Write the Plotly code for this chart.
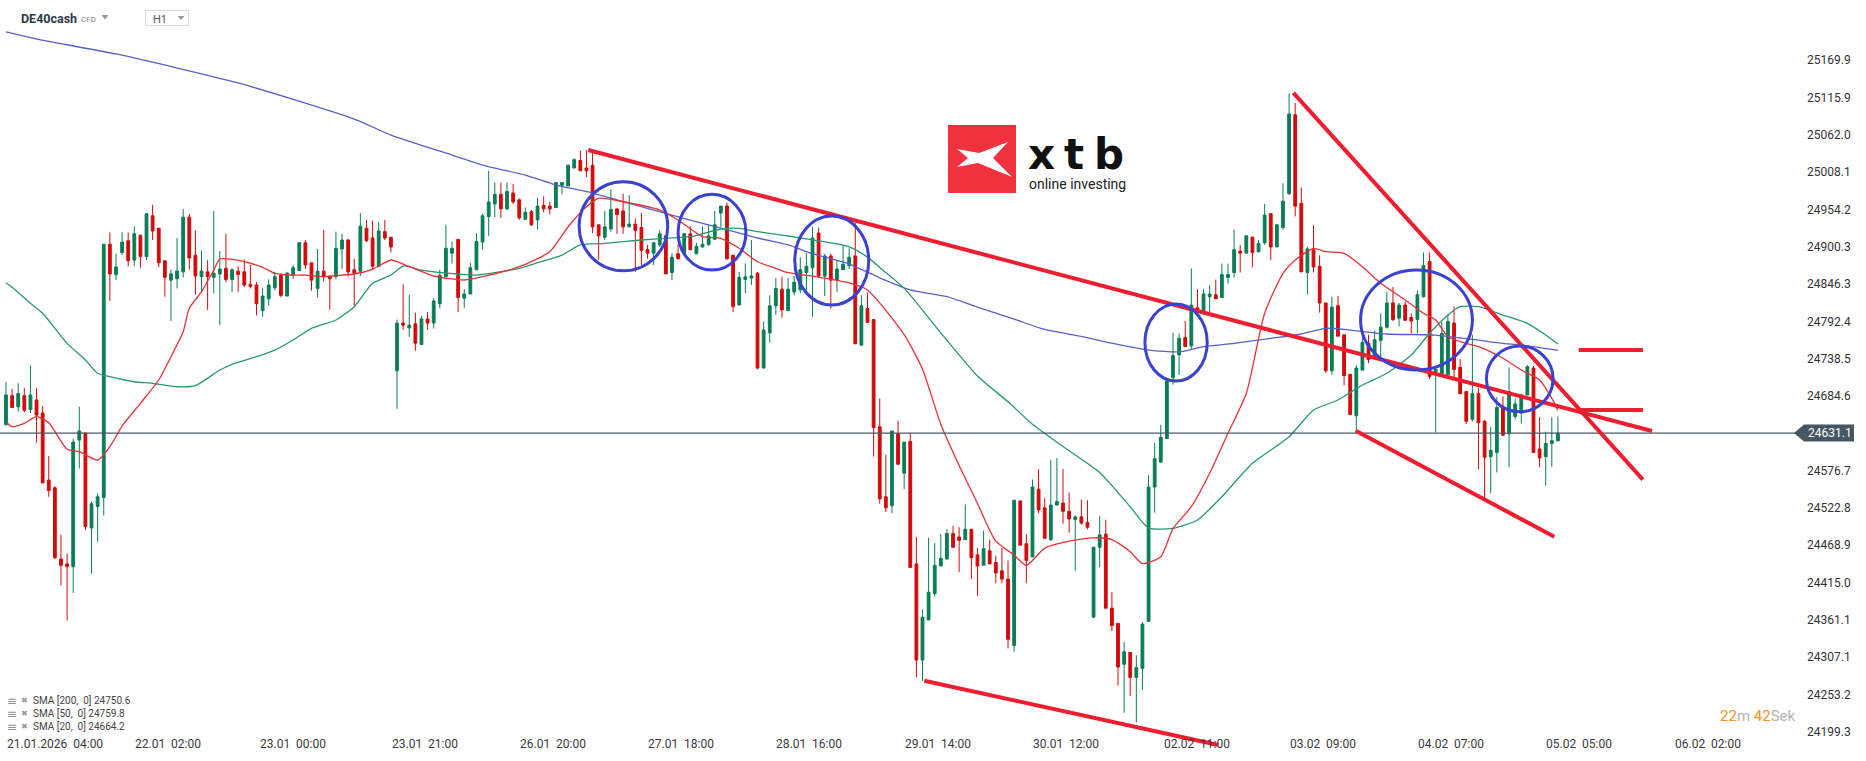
import plotly.graph_objects as go

# ---------------- data ----------------
opens = [24643,24685,24669,24685,24665,24679,24660,24563,24552,24449,
         24442,24438,24621,24631,24494,24525,24538,24904,24860,24892,
         24909,24881,24917,24886,24945,24927,24880,24852,24854,24864,
         24943,24888,24857,24864,24856,24861,24869,24853,24865,24864,
         24846,24845,24808,24825,24841,24859,24829,24859,24866,24906,
         24877,24840,24865,24858,24857,24897,24910,24867,24865,24927,
         24913,24872,24922,24914,24721,24790,24783,24789,24759,24796,
         24790,24818,24857,24891,24911,24826,24832,24867,24907,24944,
         24962,24976,24955,24978,24968,24940,24951,24939,24960,24959,
         24957,24989,24988,25014,25025,25014,25018,24932,24914,24926,
         24955,24952,24929,24933,24928,24896,24891,24903,24916,24863,
         24890,24890,24919,24890,24900,24903,24911,24949,24959,24888,
         24816,24853,24855,24862,24725,24776,24815,24839,24808,24835,
         24838,24863,24870,24920,24858,24887,24852,24867,24873,24887,
         24758,24811,24795,24640,24539,24526,24630,24573,24619,24442,
         24303,24361,24399,24439,24449,24486,24481,24477,24492,24455,
         24440,24461,24444,24432,24420,24324,24533,24471,24452,24550,
         24523,24477,24527,24530,24518,24506,24510,24502,24365,24466,
         24485,24378,24356,24297,24314,24278,24291,24359,24553,24589,
         24623,24711,24744,24769,24757,24812,24805,24828,24831,24827,
         24856,24863,24894,24891,24914,24893,24906,24948,24900,24928,
         24977,25091,24963,24863,24896,24872,24819,24721,24815,24773,
         24716,24656,24722,24761,24741,24765,24784,24819,24797,24816,
         24798,24795,24828,24879,24720,24714,24715,24790,24726,24691,
         24651,24688,24648,24597,24603,24668,24630,24655,24660,24686,
         24725,24608,24597,24616,24620]
highs = [24705,24695,24703,24696,24729,24696,24670,24598,24554,24484,
         24457,24623,24669,24632,24532,24544,24904,24921,24890,24921,
         24921,24930,24917,24948,24961,24927,24880,24867,24913,24955,
         24948,24924,24894,24881,24952,24894,24919,24869,24872,24882,
         24874,24849,24841,24853,24864,24862,24864,24874,24907,24910,
         24877,24897,24925,24858,24922,24919,24912,24883,24949,24939,
         24938,24936,24939,24914,24795,24846,24831,24805,24800,24806,
         24826,24867,24932,24908,24911,24839,24877,24920,24948,25010,
         24993,24993,24993,24991,24970,24957,24953,24971,24973,24965,
         24993,24993,25019,25028,25039,25040,25040,24932,24952,24983,
         24955,24977,24975,24941,24949,24903,24906,24924,24916,24891,
         24904,24920,24930,24906,24930,24932,24952,24959,24964,24888,
         24864,24876,24910,24864,24792,24830,24855,24857,24855,24858,
         24885,24891,24929,24928,24890,24890,24880,24902,24898,24935,
         24830,24834,24796,24681,24600,24634,24649,24618,24631,24481,
         24376,24480,24472,24485,24492,24497,24495,24528,24492,24465,
         24490,24477,24454,24465,24447,24534,24533,24485,24564,24579,
         24537,24592,24595,24579,24545,24512,24535,24534,24467,24511,
         24506,24401,24356,24329,24314,24310,24358,24570,24617,24643,
         24711,24776,24775,24793,24869,24839,24839,24845,24853,24876,
         24876,24925,24903,24916,24915,24910,24962,24948,24932,24992,
         25122,25108,24986,24900,24931,24888,24819,24828,24829,24773,
         24716,24729,24770,24773,24779,24804,24835,24842,24819,24821,
         24804,24837,24892,24892,24727,24792,24802,24814,24738,24691,
         24773,24696,24650,24640,24683,24684,24726,24681,24688,24729,
         24728,24654,24633,24654,24655]
lows = [24643,24668,24662,24661,24660,24617,24559,24539,24449,24411,
        24360,24400,24580,24491,24428,24474,24512,24822,24852,24888,
        24872,24872,24870,24881,24910,24871,24828,24793,24840,24856,
        24867,24831,24834,24809,24833,24787,24849,24835,24835,24842,
        24840,24801,24799,24815,24837,24827,24829,24854,24866,24868,
        24837,24827,24850,24809,24853,24868,24857,24815,24858,24907,
        24868,24871,24910,24892,24666,24780,24770,24750,24759,24780,
        24782,24811,24857,24876,24806,24812,24832,24867,24896,24916,
        24943,24942,24953,24962,24939,24940,24930,24925,24950,24947,
        24956,24976,24988,25014,25010,25001,24920,24881,24910,24922,
        24919,24919,24929,24864,24874,24883,24874,24900,24861,24852,
        24882,24890,24895,24890,24899,24903,24911,24929,24881,24806,
        24816,24833,24845,24723,24725,24762,24802,24798,24808,24830,
        24833,24833,24799,24855,24829,24811,24835,24867,24868,24760,
        24758,24791,24597,24529,24517,24515,24586,24550,24437,24278,
        24273,24361,24395,24439,24449,24466,24430,24477,24420,24396,
        24440,24442,24414,24414,24320,24315,24469,24414,24452,24515,
        24479,24475,24527,24500,24487,24432,24499,24492,24364,24437,
        24378,24345,24266,24227,24251,24213,24260,24359,24516,24589,
        24623,24701,24715,24756,24751,24799,24805,24806,24825,24826,
        24847,24856,24863,24891,24871,24892,24903,24881,24900,24925,
        24975,24944,24864,24831,24863,24805,24718,24715,24771,24700,
        24658,24633,24722,24732,24738,24741,24782,24793,24785,24793,
        24775,24775,24827,24709,24632,24714,24715,24709,24687,24644,
        24648,24579,24533,24544,24574,24627,24582,24651,24645,24686,
        24603,24582,24555,24582,24619]
closes = [24686,24668,24688,24664,24686,24657,24559,24548,24451,24440,
          24438,24618,24634,24496,24529,24539,24904,24861,24871,24907,
          24880,24919,24886,24948,24923,24877,24856,24861,24865,24943,
          24884,24858,24865,24857,24862,24868,24853,24867,24860,24845,
          24843,24818,24829,24845,24857,24830,24862,24870,24906,24874,
          24852,24865,24857,24854,24898,24910,24864,24862,24930,24909,
          24872,24923,24913,24900,24790,24787,24787,24761,24796,24790,
          24822,24859,24898,24898,24827,24832,24870,24908,24945,24965,
          24976,24955,24980,24965,24942,24950,24932,24959,24955,24955,
          24993,24993,25018,25026,25010,25010,24929,24916,24929,24954,
          24947,24929,24933,24924,24895,24891,24906,24919,24861,24885,
          24883,24919,24896,24901,24904,24916,24932,24959,24883,24814,
          24856,24857,24858,24725,24780,24815,24840,24809,24839,24849,
          24867,24872,24913,24858,24887,24852,24868,24875,24885,24760,
          24815,24791,24639,24536,24523,24634,24586,24618,24437,24303,
          24365,24401,24440,24450,24486,24466,24476,24492,24451,24439,
          24464,24442,24429,24420,24333,24534,24469,24447,24553,24520,
          24479,24527,24532,24518,24507,24510,24501,24495,24466,24484,
          24378,24353,24293,24315,24278,24292,24355,24553,24594,24625,
          24706,24743,24768,24756,24816,24806,24832,24832,24825,24860,
          24860,24896,24891,24916,24892,24905,24946,24900,24932,24966,
          25092,24959,24864,24897,24871,24819,24721,24813,24771,24714,
          24658,24725,24762,24737,24766,24784,24819,24795,24816,24794,
          24793,24831,24873,24713,24723,24775,24792,24723,24688,24648,
          24688,24646,24596,24606,24668,24628,24691,24673,24686,24727,
          24603,24595,24616,24620,24631.1]
bars = list(range(len(opens)))

sma200_bar = [0, 5, 18, 38, 57, 63, 73, 79, 85, 90, 96, 101, 106, 112, 117, 123, 128, 132, 138, 143,
              148, 154, 159, 165, 170, 176, 181, 187, 192, 196, 201, 207, 212, 216, 220, 226, 234, 240,
              245, 248, 254]
sma200_val = [25210.6, 25200.4, 25178.8, 25136.9, 25084.8, 25061.7, 25032.8, 25015.9, 25003.9, 24989.5,
              24977.9, 24965.3, 24953.3, 24938.9, 24927.3, 24912.9, 24902.8, 24890.2, 24875.3, 24855.4,
              24837.9, 24828.1, 24813.0, 24795.7, 24780.7, 24770.8, 24760.9, 24750.9, 24748.4, 24755.8,
              24760.7, 24768.0, 24774.2, 24782.4, 24779.9, 24774.2, 24772.7, 24766.5, 24760.7, 24758.3,
              24750.6]
sma50_bar = [0, 1, 4, 6, 10, 13, 15, 17, 21, 24, 28, 31, 35, 37, 41, 44, 47, 50, 54, 57,
             60, 63, 65, 68, 74, 77, 84, 87, 91, 94, 98, 104, 108, 112, 117, 120, 123, 128, 132, 138,
             141, 144, 147, 153, 159, 164, 168, 173, 179, 184, 187, 191, 195, 199, 204, 210, 214, 218,
             222, 226, 230, 233, 236, 238, 241, 245, 249, 252, 254]
sma50_val = [24848.3, 24841.7, 24818.5, 24804.1, 24760.7, 24736.6, 24717.4, 24712.5, 24705.2, 24702.9,
             24698.0, 24699.5, 24722.1, 24730.4, 24741.4, 24751.0, 24765.5, 24782.4, 24794.4, 24813.6,
             24847.4, 24859.4, 24872.4, 24866.6, 24860.9, 24859.4, 24869.1, 24877.2, 24888.3, 24902.8,
             24905.2, 24910.0, 24912.5, 24914.8, 24925.9, 24926.9, 24922.0, 24915.8, 24910.1, 24900.2,
             24885.3, 24862.9, 24840.5, 24775.8, 24713.5, 24676.2, 24643.8, 24611.6, 24574.2, 24524.5,
             24494.0, 24493.4, 24505.4, 24539.1, 24587.3, 24625.8, 24664.3, 24678.8, 24700.5, 24717.4,
             24743.8, 24775.2, 24801.6, 24813.6, 24813.6, 24801.6, 24789.6, 24772.7, 24759.8]
sma20_bar = [0, 1, 3, 5, 7, 10, 12, 15, 17, 19, 22, 25, 27, 29, 30, 32, 34, 35, 37, 39,
             42, 44, 47, 49, 52, 55, 57, 60, 63, 65, 70, 75, 78, 84, 89, 92, 95, 97, 101, 107,
             110, 114, 117, 120, 123, 126, 128, 132, 138, 141, 147, 150, 153, 156, 159, 162, 165, 167,
             170, 174, 178, 181, 184, 186, 189, 191, 194, 197, 200, 203, 206, 209, 211, 214, 216, 219,
             222, 225, 229, 232, 234, 236, 239, 241, 245, 248, 251, 253, 254]
sma20_val = [24647.4, 24640.2, 24645.1, 24654.7, 24646.0, 24607.6, 24604.1, 24592.1, 24611.3, 24641.2,
             24674.0, 24707.7, 24741.4, 24777.5, 24811.3, 24835.3, 24866.6, 24882.5, 24882.1, 24878.6,
             24870.6, 24861.9, 24859.4, 24859.4, 24857.0, 24859.4, 24860.9, 24867.7, 24881.1, 24875.3,
             24858.0, 24852.2, 24857.0, 24871.4, 24893.1, 24929.2, 24958.1, 24970.3, 24965.3, 24953.3,
             24938.9, 24914.8, 24912.5, 24898.0, 24878.6, 24869.1, 24862.7, 24857.8, 24847.9, 24837.9,
             24773.3, 24723.4, 24643.8, 24584.2, 24529.4, 24474.8, 24454.8, 24439.9, 24464.8, 24474.8,
             24479.7, 24477.2, 24459.7, 24442.4, 24452.4, 24493.0, 24524.6, 24572.9, 24630.7, 24688.5,
             24804.1, 24861.9, 24881.1, 24898.0, 24893.1, 24890.8, 24871.4, 24847.4, 24823.3, 24804.1,
             24794.4, 24770.3, 24760.7, 24755.8, 24739.1, 24722.1, 24707.7, 24681.2, 24664.2]

price_ticks = ["25169.9", "25115.9", "25062.0", "25008.1", "24954.2", "24900.3", "24846.3", "24792.4",
               "24738.5", "24684.6", "24576.7", "24522.8", "24468.9", "24415.0", "24361.1", "24307.1",
               "24253.2", "24199.3"]
time_labels = ["21.01.2026\u00a0\u00a004:00", "22.01\u00a0\u00a002:00", "23.01\u00a0\u00a000:00",
               "23.01\u00a0\u00a021:00", "26.01\u00a0\u00a020:00", "27.01\u00a0\u00a018:00",
               "28.01\u00a0\u00a016:00", "29.01\u00a0\u00a014:00", "30.01\u00a0\u00a012:00",
               "02.02\u00a0\u00a011:00", "03.02\u00a0\u00a009:00", "04.02\u00a0\u00a007:00",
               "05.02\u00a0\u00a005:00", "06.02\u00a0\u00a002:00"]
time_label_bar = [8, 26.5, 47, 68.5, 89.5, 110.5, 131.5, 152.5, 173.5, 195, 215.5, 236.5, 257.5, 278.5]

last_price = 24631.1
legend_rows = ["SMA [200,\u00a0\u00a00] 24750.6", "SMA [50,\u00a0\u00a00] 24759.8", "SMA [20,\u00a0\u00a00] 24664.2"]

# hand-drawn analysis objects (bar index, price)
trend_lines = [(95.3, 25040.0, 269.4, 24634.0),
               (210.7, 25122.7, 267.9, 24563.8),
               (220.9, 24634.3, 253.4, 24481.3),
               (150.3, 24273.2, 198.4, 24180.3),
               (257.4, 24751.0, 267.9, 24751.0),
               (257.4, 24664.5, 267.9, 24664.5)]
circles = [(93.8, 24865.6, 108.3, 24994.2),
           (110.0, 24866.6, 121.1, 24976.0),
           (129.1, 24816.1, 141.2, 24944.7),
           (186.4, 24706.3, 196.6, 24817.5),
           (221.7, 24722.1, 240.0, 24866.6),
           (242.3, 24661.9, 253.2, 24756.8)]

# ---------------- layout geometry ----------------
W, H = 1866, 761
PLOT_W = 1795
Y_TOP, Y_BOT = 25256.8, 24157.2
X_LEFT, X_RIGHT = -0.98, 292.8

GREEN = "#0a7d55"
RED = "#d20a0a"
TREND = "#ee1d2f"
CIRCLE = "#3b42d2"


def px(fx):
    return fx / PLOT_W


def py(fy):
    return 1 - fy / H


def pv(v):
    return (v - Y_BOT) / (Y_TOP - Y_BOT)


fig = go.Figure()
fig.add_trace(go.Candlestick(
    x=bars, open=opens, high=highs, low=lows, close=closes,
    increasing=dict(line=dict(color=GREEN, width=1), fillcolor=GREEN),
    decreasing=dict(line=dict(color=RED, width=1), fillcolor=RED),
    whiskerwidth=0, showlegend=False, hoverinfo="skip"))

for bx, vals, col in [(sma200_bar, sma200_val, "#5a60c6"),
                      (sma50_bar, sma50_val, "#27986f"),
                      (sma20_bar, sma20_val, "#e5323a")]:
    fig.add_trace(go.Scatter(x=bx, y=vals, mode="lines",
                             line=dict(color=col, width=1.3, shape="spline", smoothing=0.6),
                             showlegend=False, hoverinfo="skip"))

shapes = []
shapes.append(dict(type="line", xref="paper", yref="y", x0=0, x1=1, y0=last_price, y1=last_price,
                   line=dict(color="#4a5863", width=1.3), layer="above"))
for (x0, y0, x1, y1) in trend_lines:
    shapes.append(dict(type="line", xref="x", yref="y", x0=x0, y0=y0, x1=x1, y1=y1,
                       line=dict(color=TREND, width=4)))
for (x0, y0, x1, y1) in circles:
    shapes.append(dict(type="circle", xref="x", yref="y", x0=x0, y0=y0, x1=x1, y1=y1,
                       line=dict(color=CIRCLE, width=3)))

# price tag on the axis
ty = H * (1 - pv(last_price))
shapes.append(dict(type="path", xref="paper", yref="paper",
                   path=f"M {px(1794)} {py(ty)} L {px(1804)} {py(ty-8.5)} L {px(1854)} {py(ty-8.5)} "
                        f"L {px(1854)} {py(ty+8.5)} L {px(1804)} {py(ty+8.5)} Z",
                   fillcolor="#465663", line=dict(width=0)))

# xtb logo
shapes.append(dict(type="rect", xref="paper", yref="paper", x0=px(948), x1=px(1016), y0=py(193), y1=py(125),
                   fillcolor="#f0323f", line=dict(width=0)))
logo_pts = [(957, 149), (979, 153), (1008, 142), (993, 158), (1012, 177), (978, 163), (957, 167), (968, 158)]
path = "M " + " L ".join(f"{px(a)} {py(b)}" for a, b in logo_pts) + " Z"
shapes.append(dict(type="path", xref="paper", yref="paper", path=path, fillcolor="white", line=dict(width=0)))

# header widgets
shapes.append(dict(type="path", xref="paper", yref="paper",
                   path=f"M {px(101.5)} {py(15)} L {px(108.5)} {py(15)} L {px(105)} {py(19.5)} Z",
                   fillcolor="#9a9a9a", line=dict(width=0)))
shapes.append(dict(type="rect", xref="paper", yref="paper", x0=px(145.5), x1=px(188.5), y0=py(25.5), y1=py(10.5),
                   fillcolor="white", line=dict(color="#d9d9d9", width=1)))
shapes.append(dict(type="path", xref="paper", yref="paper",
                   path=f"M {px(177.5)} {py(16)} L {px(184.5)} {py(16)} L {px(181)} {py(20)} Z",
                   fillcolor="#9a9a9a", line=dict(width=0)))

ann = []
for lab, b in zip(time_labels, time_label_bar):
    ann.append(dict(x=b, y=py(744), xref="x", yref="paper", text=lab, showarrow=False,
                    xanchor="center", yanchor="middle", font=dict(family="Roboto", size=12, color="#3a3a3a")))
ann.append(dict(x=px(1829.5), y=last_price, xref="paper", yref="y", text=f"{last_price:.1f}", showarrow=False,
                xanchor="center", yanchor="middle", font=dict(family="Roboto", size=12, color="white")))
ann.append(dict(x=px(19), y=py(18.5), xref="paper", yref="paper", text="DE40cash", showarrow=False,
                xanchor="left", yanchor="middle",
                font=dict(family="Roboto", size=12.5, color="#2c3a47", weight=700)))
ann.append(dict(x=px(79), y=py(19.5), xref="paper", yref="paper", text="CFD", showarrow=False,
                xanchor="left", yanchor="middle", font=dict(family="Roboto", size=8, color="#8a8a8a")))
ann.append(dict(x=px(150.5), y=py(19), xref="paper", yref="paper", text="H1", showarrow=False,
                xanchor="left", yanchor="middle", font=dict(family="Roboto", size=11, color="#555555")))
for i, row in enumerate(legend_rows):
    yy = 700.7 + i * 13
    ann.append(dict(x=px(5), y=py(yy), xref="paper", yref="paper", text="\u2261", showarrow=False,
                    xanchor="left", yanchor="middle", font=dict(family="DejaVu Sans", size=12, color="#8f8f8f")))
    ann.append(dict(x=px(19), y=py(yy), xref="paper", yref="paper", text="\u2716", showarrow=False,
                    xanchor="left", yanchor="middle", font=dict(family="DejaVu Sans", size=8, color="#999999")))
    ann.append(dict(x=px(31), y=py(yy), xref="paper", yref="paper", text=row, showarrow=False,
                    xanchor="left", yanchor="middle", font=dict(family="Roboto", size=10, color="#444444")))
# logo text
for letter, cx in [("x", 1041), ("t", 1073.5), ("b", 1109)]:
    ann.append(dict(x=px(cx), y=py(154.5), xref="paper", yref="paper", text=letter, showarrow=False,
                    xanchor="center", yanchor="middle",
                    font=dict(family="DejaVu Sans", size=42, color="#111111", weight=700)))
ann.append(dict(x=px(1027), y=py(184), xref="paper", yref="paper", text="online investing", showarrow=False,
                xanchor="left", yanchor="middle", font=dict(family="Roboto", size=14, color="#222222")))
# countdown
ann.append(dict(x=px(1797), y=py(716), xref="paper", yref="paper",
                text="<span style='color:#f5951f'>22</span><span style='color:#b3b3b3'>m </span>"
                     "<span style='color:#f5951f'>42</span><span style='color:#b3b3b3'>Sek</span>",
                showarrow=False, xanchor="right", yanchor="middle", font=dict(family="Roboto", size=15)))

fig.update_layout(
    width=W, height=H, autosize=False,
    margin=dict(l=0, r=W - PLOT_W, t=0, b=0, pad=0),
    paper_bgcolor="white", plot_bgcolor="white",
    boxgap=0.35,
    xaxis=dict(range=[X_LEFT, X_RIGHT], showgrid=False, zeroline=False, showticklabels=False,
               showline=False, rangeslider=dict(visible=False), fixedrange=True),
    yaxis=dict(range=[Y_BOT, Y_TOP], side="right", showgrid=False, zeroline=False, showline=False,
               tickmode="array", tickvals=[float(t) for t in price_ticks], ticktext=price_ticks,
               ticks="", ticklabelstandoff=11,
               tickfont=dict(family="Roboto", size=12, color="#333333"), fixedrange=True),
    shapes=shapes, annotations=ann, showlegend=False, hovermode=False,
)

fig.write_html("out.html", config={"displayModeBar": False},
               post_script="document.body.style.margin='0px';document.body.style.overflow='hidden';")
